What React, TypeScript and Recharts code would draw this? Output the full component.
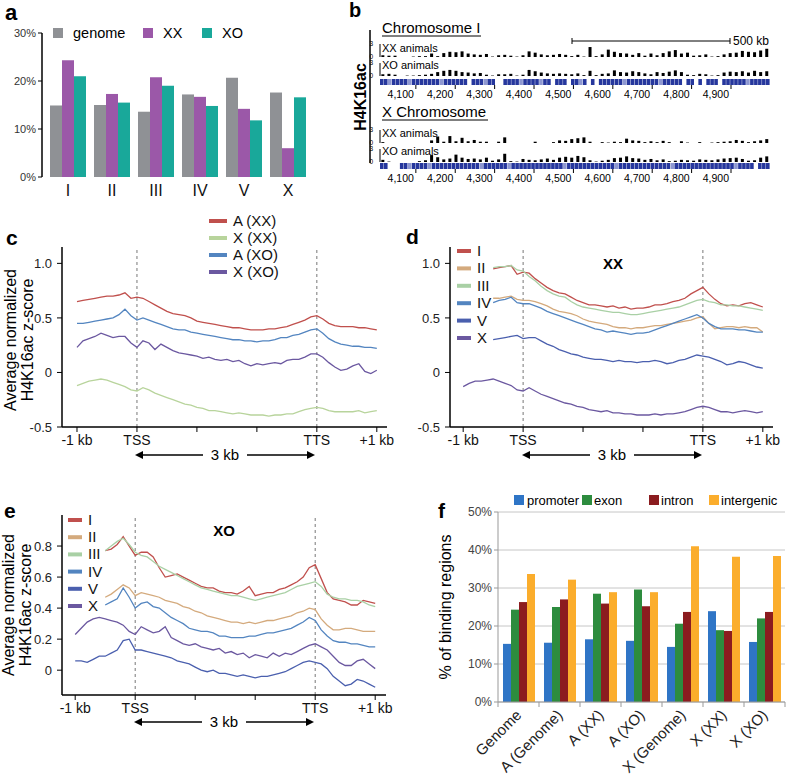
import React from "react";
import { BarChart, Bar, XAxis, YAxis, CartesianGrid, LineChart, Line, ReferenceLine, Cell } from "recharts";

const FONT = "'Liberation Sans', Arial, Helvetica, sans-serif";

// ---- panel a: share of binding regions per chromosome
const CHROMS = ["I", "II", "III", "IV", "V", "X"];
const GENOME_PCT = [14.9, 15.0, 13.6, 17.2, 20.7, 17.6];
const XX_PCT = [24.3, 17.3, 20.8, 16.7, 14.2, 6.0];
const XO_PCT = [21.0, 15.5, 19.0, 14.8, 11.8, 16.6];

// ---- panel b: browser tracks (signal 0-3, 64 bins) and gene models
const CHR_I_XX = [
  0.4, 0.3, 0.3, 0, 0, 0.1, 0.2, 0.2, 0.8, 0.2,
  0.9, 1.2, 1.1, 1.3, 0.8, 0.6, 0.5, 0.7, 0.1, 0.4,
  0.5, 0.3, 0.1, 0.4, 1.3, 1.0, 0.6, 0.4, 0.5, 0.7,
  0.5, 0.2, 0.5, 0.1, 2.3, 0.2, 0.6, 1.7, 1.2, 0.9,
  0.8, 0.5, 0.9, 0.3, 0.8, 0.4, 0.9, 1.3, 1.6, 0.8,
  1.0, 0.3, 0.4, 0.6, 0.1, 0.2, 0.6, 0.9, 1.0, 1.4,
  1.2, 1.1, 1.5, 1.9,
];
const CHR_I_XO = [
  0.4, 0.5, 0.3, 0, 0.1, 0.1, 0.2, 0.3, 0.5, 0.9,
  1.2, 1.4, 1.2, 0.9, 0.8, 0.6, 0.7, 0.3, 0.1, 0.4,
  0.4, 0.5, 0.1, 0.3, 1.4, 1.1, 0.8, 0.6, 0.5, 0.6,
  0.5, 0.4, 0.6, 0.2, 1.2, 0.2, 0.5, 0.6, 1.3, 0.9,
  0.8, 1.1, 0.9, 0.6, 0.4, 0.9, 0.7, 1.0, 1.3, 0.9,
  0.3, 0.2, 0.5, 0.4, 0.1, 0.2, 0.8, 1.0, 0.9, 1.1,
  0.8, 1.2, 0.9, 1.1,
];
const CHR_X_XX = [
  0.2, 0, 0, 0, 0, 0, 0, 0, 0.6, 1.5,
  0.3, 1.6, 0.4, 1.2, 0.4, 0.7, 0.3, 0.3, 0, 0.3,
  1.3, 0, 0, 0, 0, 0.3, 0, 0, 0.2, 0.6,
  0.5, 0.9, 1.1, 1.3, 0.3, 0, 0.2, 0.1, 0.3, 0.2,
  1.0, 0.6, 0.5, 0.2, 0.4, 0.2, 0.5, 0.2, 0, 0.4,
  0.1, 0, 0.2, 0, 0.1, 0.2, 0.3, 0.4, 0.7, 0.5,
  0.2, 0.4, 0.6, 0.9,
];
const CHR_X_XO = [
  0.5, 0.1, 0, 0, 0, 0, 0.2, 0.4, 1.6, 1.1,
  0.6, 0.8, 1.7, 1.0, 0.7, 0.8, 0.6, 1.0, 0.3, 0.6,
  1.9, 0.2, 0.1, 0.7, 0.5, 0.4, 0.6, 0.8, 0.5, 1.0,
  1.2, 1.0, 1.4, 1.1, 0.4, 0.1, 0.3, 0.5, 0.9, 1.0,
  1.3, 0.9, 0.8, 0.5, 0.7, 0.4, 0.6, 0.2, 0.3, 0.5,
  0.4, 0.3, 0.6, 0.5, 0.4, 0.6, 0.8, 0.9, 1.0, 0.7,
  0.3, 0.4, 1.0, 1.3,
];
// 2 = dark exon block, 1 = light block, 0 = no gene
const GENES_I = "2212222122222221222222" + "0" + "222122" + "00" + "222212222122" + "0" + "222" + "0" + "2212" + "0" + "2" + "0" + "222222122222222122222" + "0" + "22" + "0" + "2" + "0" + "222" + "0" + "222222122222";
const GENES_X = "22" + "000" + "2212222122" + "2222222222" + "1222222122" + "2222222222" + "2122222222" + "2222122222" + "2222222212" + "2222222222" + "2222122220" + "222";
const KB_TICKS = [4100, 4200, 4300, 4400, 4500, 4600, 4700, 4800, 4900];
const KB_DOMAIN = [4009, 4999];

// ---- panels c-e: metagene profiles, x in kb from -1 kb (0) to +1 kb (5)
const XS = [
  0, 0.1, 0.2, 0.3, 0.4, 0.5, 0.6, 0.7, 0.8, 0.9,
  1, 1.1, 1.2, 1.3, 1.4, 1.5, 1.6, 1.7, 1.8, 1.9,
  2, 2.1, 2.2, 2.3, 2.4, 2.5, 2.6, 2.7, 2.8, 2.9,
  3, 3.1, 3.2, 3.3, 3.4, 3.5, 3.6, 3.7, 3.8, 3.9,
  4, 4.1, 4.2, 4.3, 4.4, 4.5, 4.6, 4.7, 4.8, 4.9,
  5,
];
const X_LABELS = ["-1 kb", "TSS", "", "", "TTS", "+1 kb"];

const C_A_XX = [
  0.65, 0.66, 0.67, 0.68, 0.69, 0.70, 0.70, 0.71, 0.73, 0.68,
  0.69, 0.68, 0.65, 0.62, 0.59, 0.56, 0.54, 0.53, 0.52, 0.50,
  0.47, 0.46, 0.45, 0.44, 0.43, 0.42, 0.41, 0.41, 0.40, 0.39,
  0.39, 0.39, 0.40, 0.40, 0.41, 0.42, 0.44, 0.46, 0.48, 0.51,
  0.52, 0.49, 0.45, 0.43, 0.42, 0.42, 0.42, 0.41, 0.41, 0.40,
  0.39,
];
const C_X_XX = [
  -0.12, -0.10, -0.08, -0.07, -0.06, -0.07, -0.09, -0.11, -0.13, -0.16,
  -0.17, -0.14, -0.16, -0.19, -0.21, -0.23, -0.25, -0.27, -0.29, -0.30,
  -0.32, -0.33, -0.35, -0.35, -0.36, -0.37, -0.38, -0.37, -0.38, -0.39,
  -0.39, -0.39, -0.40, -0.39, -0.39, -0.38, -0.38, -0.36, -0.34, -0.33,
  -0.32, -0.33, -0.35, -0.36, -0.36, -0.36, -0.36, -0.35, -0.37, -0.36,
  -0.35,
];
const C_A_XO = [
  0.45, 0.45, 0.46, 0.47, 0.48, 0.49, 0.50, 0.53, 0.58, 0.52,
  0.48, 0.50, 0.48, 0.46, 0.44, 0.42, 0.40, 0.39, 0.39, 0.37,
  0.36, 0.35, 0.34, 0.33, 0.32, 0.31, 0.30, 0.30, 0.29, 0.29,
  0.28, 0.29, 0.29, 0.30, 0.32, 0.32, 0.34, 0.35, 0.37, 0.39,
  0.40, 0.36, 0.31, 0.28, 0.26, 0.25, 0.24, 0.24, 0.23, 0.23,
  0.22,
];
const C_X_XO = [
  0.23, 0.29, 0.31, 0.33, 0.36, 0.34, 0.32, 0.33, 0.33, 0.27,
  0.23, 0.29, 0.27, 0.21, 0.26, 0.23, 0.20, 0.18, 0.17, 0.16,
  0.15, 0.13, 0.14, 0.12, 0.11, 0.12, 0.10, 0.11, 0.08, 0.06,
  0.08, 0.07, 0.08, 0.09, 0.08, 0.11, 0.12, 0.12, 0.14, 0.17,
  0.17, 0.14, 0.09, 0.05, 0.02, 0.03, 0.06, 0.08, 0.01, -0.01,
  0.02,
];

// panel d (XX), autosomes start at 0.5
const D_I = [
  null, null, null, null, null, 0.95, 0.96, 0.97, 0.98, 0.90,
  0.92, 0.91, 0.86, 0.82, 0.78, 0.75, 0.73, 0.72, 0.69, 0.66,
  0.64, 0.62, 0.62, 0.61, 0.60, 0.61, 0.59, 0.60, 0.58, 0.59,
  0.59, 0.60, 0.62, 0.62, 0.63, 0.65, 0.66, 0.68, 0.72, 0.75,
  0.78, 0.72, 0.67, 0.63, 0.61, 0.62, 0.61, 0.63, 0.64, 0.62,
  0.60,
];
const D_II = [
  null, null, null, null, null, 0.68, 0.68, 0.69, 0.70, 0.67,
  0.66, 0.66, 0.65, 0.63, 0.61, 0.58, 0.56, 0.55, 0.54, 0.52,
  0.49, 0.47, 0.46, 0.45, 0.44, 0.42, 0.41, 0.41, 0.40, 0.41,
  0.41, 0.42, 0.43, 0.43, 0.44, 0.45, 0.46, 0.47, 0.48, 0.50,
  0.51, 0.45, 0.40, 0.41, 0.42, 0.42, 0.41, 0.42, 0.41, 0.41,
  0.37,
];
const D_III = [
  null, null, null, null, null, 0.96, 0.97, 0.97, 0.98, 0.94,
  0.93, 0.88, 0.84, 0.79, 0.75, 0.72, 0.70, 0.69, 0.65, 0.62,
  0.60, 0.59, 0.58, 0.57, 0.56, 0.55, 0.55, 0.54, 0.53, 0.53,
  0.54, 0.55, 0.56, 0.57, 0.58, 0.59, 0.60, 0.62, 0.64, 0.66,
  0.67, 0.65, 0.64, 0.62, 0.62, 0.61, 0.61, 0.60, 0.59, 0.58,
  0.57,
];
const D_IV = [
  null, null, null, null, null, 0.64, 0.66, 0.67, 0.69, 0.64,
  0.63, 0.63, 0.61, 0.59, 0.56, 0.54, 0.52, 0.50, 0.48, 0.46,
  0.44, 0.42, 0.40, 0.39, 0.37, 0.38, 0.37, 0.36, 0.35, 0.36,
  0.36, 0.37, 0.39, 0.41, 0.43, 0.45, 0.47, 0.49, 0.51, 0.53,
  0.50, 0.45, 0.42, 0.40, 0.40, 0.40, 0.39, 0.39, 0.38, 0.37,
  0.37,
];
const D_V = [
  null, null, null, null, null, 0.30, 0.31, 0.32, 0.33, 0.34,
  0.31, 0.32, 0.32, 0.29, 0.26, 0.24, 0.21, 0.19, 0.17, 0.16,
  0.14, 0.13, 0.12, 0.12, 0.11, 0.10, 0.11, 0.10, 0.10, 0.09,
  0.10, 0.10, 0.11, 0.10, 0.08, 0.09, 0.11, 0.12, 0.14, 0.16,
  0.15, 0.14, 0.12, 0.10, 0.07, 0.08, 0.10, 0.09, 0.07, 0.05,
  0.04,
];
const D_X = [
  -0.13, -0.10, -0.08, -0.08, -0.07, -0.06, -0.08, -0.10, -0.12, -0.16,
  -0.17, -0.14, -0.17, -0.20, -0.22, -0.24, -0.26, -0.28, -0.29, -0.31,
  -0.32, -0.34, -0.35, -0.36, -0.35, -0.37, -0.37, -0.38, -0.38, -0.39,
  -0.39, -0.39, -0.38, -0.39, -0.38, -0.38, -0.37, -0.36, -0.34, -0.32,
  -0.31, -0.32, -0.34, -0.36, -0.36, -0.37, -0.36, -0.35, -0.36, -0.37,
  -0.36,
];

// panel e (XO)
const E_I = [
  null, null, null, null, null, 0.77, 0.78, 0.81, 0.86, 0.80,
  0.74, 0.76, 0.76, 0.73, 0.66, 0.60, 0.61, 0.62, 0.60, 0.58,
  0.56, 0.54, 0.53, 0.53, 0.51, 0.50, 0.50, 0.49, 0.51, 0.54,
  0.48, 0.49, 0.50, 0.50, 0.52, 0.53, 0.55, 0.57, 0.60, 0.66,
  0.68, 0.59, 0.50, 0.46, 0.45, 0.44, 0.42, 0.42, 0.45, 0.44,
  0.43,
];
const E_II = [
  null, null, null, null, null, 0.47, 0.49, 0.52, 0.55, 0.53,
  0.48, 0.50, 0.49, 0.48, 0.47, 0.45, 0.44, 0.43, 0.41, 0.40,
  0.38, 0.37, 0.35, 0.34, 0.33, 0.32, 0.31, 0.31, 0.30, 0.31,
  0.30, 0.31, 0.32, 0.32, 0.33, 0.34, 0.35, 0.37, 0.38, 0.40,
  0.39, 0.33, 0.29, 0.26, 0.26, 0.27, 0.27, 0.26, 0.25, 0.25,
  0.25,
];
const E_III = [
  null, null, null, null, null, 0.77, 0.80, 0.83, 0.85, 0.81,
  0.76, 0.74, 0.73, 0.70, 0.67, 0.65, 0.63, 0.61, 0.59, 0.57,
  0.55, 0.53, 0.52, 0.51, 0.50, 0.49, 0.48, 0.48, 0.47, 0.46,
  0.45, 0.46, 0.47, 0.48, 0.49, 0.50, 0.52, 0.54, 0.55, 0.56,
  0.57, 0.54, 0.49, 0.47, 0.46, 0.46, 0.45, 0.45, 0.44, 0.42,
  0.41,
];
const E_IV = [
  null, null, null, null, null, 0.42, 0.44, 0.46, 0.53, 0.47,
  0.40, 0.43, 0.44, 0.41, 0.40, 0.37, 0.34, 0.32, 0.30, 0.27,
  0.26, 0.25, 0.25, 0.24, 0.22, 0.22, 0.21, 0.21, 0.21, 0.22,
  0.22, 0.23, 0.24, 0.24, 0.25, 0.26, 0.27, 0.29, 0.31, 0.34,
  0.32, 0.26, 0.22, 0.19, 0.18, 0.18, 0.17, 0.17, 0.16, 0.15,
  0.15,
];
const E_V = [
  0.06, 0.06, 0.05, 0.07, 0.09, 0.09, 0.11, 0.13, 0.19, 0.20,
  0.13, 0.13, 0.12, 0.11, 0.10, 0.09, 0.08, 0.06, 0.05, 0.04,
  0.02, 0.00, -0.01, 0.00, -0.02, -0.02, -0.03, -0.04, -0.03, -0.04,
  -0.05, -0.04, -0.04, -0.03, -0.02, -0.01, 0.01, 0.03, 0.05, 0.06,
  0.05, 0.04, 0.01, -0.04, -0.07, -0.10, -0.09, -0.06, -0.07, -0.09,
  -0.11,
];
const E_X = [
  0.23, 0.27, 0.31, 0.33, 0.34, 0.33, 0.32, 0.31, 0.29, 0.25,
  0.23, 0.28, 0.26, 0.24, 0.25, 0.28, 0.21, 0.19, 0.17, 0.16,
  0.17, 0.15, 0.14, 0.13, 0.14, 0.11, 0.12, 0.10, 0.11, 0.08,
  0.10, 0.09, 0.08, 0.11, 0.09, 0.11, 0.10, 0.12, 0.14, 0.16,
  0.17, 0.15, 0.13, 0.09, 0.05, 0.03, 0.03, 0.06, 0.07, 0.04,
  0.01,
];

// ---- panel f: genomic feature distribution
const F_CATS = ["Genome", "A (Genome)", "A (XX)", "A (XO)", "X (Genome)", "X (XX)", "X (XO)"];
const PROMOTER = [15.3, 15.6, 16.5, 16.1, 14.5, 23.9, 15.8];
const EXON = [24.3, 25.0, 28.5, 29.6, 20.6, 18.9, 22.0];
const INTRON = [26.3, 27.0, 25.9, 25.2, 23.7, 18.7, 23.7];
const INTERGENIC = [33.7, 32.2, 28.9, 28.9, 41.0, 38.2, 38.4];

const COL = {
  red: "#c0504d",
  tan: "#d4aa7d",
  green: "#a9d0a5",
  lime: "#b8d49c",
  blue: "#5385c0",
  navy: "#4a5fae",
  purple: "#6b58a0",
};

const abs = (left: number, top: number): React.CSSProperties => ({ position: "absolute", left, top });

function PanelA() {
  const data = CHROMS.map((c, i) => ({ chr: c, genome: GENOME_PCT[i], xx: XX_PCT[i], xo: XO_PCT[i] }));
  return (
    <div style={abs(0, 0)}>
      <BarChart width={312} height={205} data={data} margin={{ top: 33, right: 2, bottom: 0, left: 0 }} barCategoryGap={4} barGap={0}>
        <XAxis dataKey="chr" axisLine={false} tickLine={false} padding={{ left: 4, right: 0 }} height={28}
          tick={{ fontSize: 16, fill: "#111", fontFamily: FONT }} interval={0} />
        <YAxis domain={[0, 30]} ticks={[0, 10, 20, 30]} tickFormatter={(v) => `${v}%`} width={42}
          axisLine={{ stroke: "#000", strokeWidth: 1.5 }} tickLine={{ stroke: "#000" }} tickSize={4}
          tick={{ fontSize: 11, fill: "#333", fontFamily: FONT }} />
        <Bar dataKey="genome" fill="#8f9195" isAnimationActive={false} />
        <Bar dataKey="xx" fill="#9b58a8" isAnimationActive={false} />
        <Bar dataKey="xo" fill="#19a89a" isAnimationActive={false} />
      </BarChart>
    </div>
  );
}

// signal track: 13px plot, small 0/3 scale on the left
function Track({ top, values }: { top: number; values: number[] }) {
  const data = values.map((v, i) => ({ i, v }));
  return (
    <div style={abs(366, top - 6)}>
      <BarChart width={406} height={25} data={data} margin={{ top: 6, right: 2, bottom: 6, left: 0 }} barCategoryGap="22%">
        <XAxis dataKey="i" hide />
        <YAxis domain={[0, 3]} ticks={[0, 3]} width={14} tickLine={false} axisLine={{ stroke: "#000" }}
          tickMargin={1} tick={{ fontSize: 6.5, fill: "#000", fontFamily: FONT }} interval={0} />
        <Bar dataKey="v" fill="#000" isAnimationActive={false} />
      </BarChart>
    </div>
  );
}

// gene chart: plot band is 6px tall at the top of its svg
const GENE_BAND = 6;
const KbTick = (props: any) => {
  const { x, payload } = props;
  return (
    <g>
      <line x1={x} x2={x} y1={GENE_BAND} y2={GENE_BAND + 4} stroke="#000" strokeWidth={1} />
      <text x={x - 2} y={GENE_BAND + 13} textAnchor="end" fontSize={10.5} fill="#000" fontFamily={FONT}>
        {Number(payload.value).toLocaleString("en-US")}
      </text>
    </g>
  );
};

function Genes({ top, code }: { top: number; code: string }) {
  const n = code.length;
  const span = KB_DOMAIN[1] - KB_DOMAIN[0];
  const data = code.split("").map((c, i) => ({ pos: KB_DOMAIN[0] + ((i + 0.5) * span) / n, v: c === "0" ? 0 : 1, c }));
  return (
    <div style={abs(380, top)}>
      <BarChart width={390} height={GENE_BAND + 17} data={data} margin={{ top: 0, right: 0, bottom: 0, left: 0 }}>
        <XAxis type="number" dataKey="pos" domain={KB_DOMAIN} ticks={KB_TICKS} interval={0} axisLine={false}
          tickLine={false} height={17} tick={<KbTick />} allowDataOverflow />
        <YAxis hide domain={[0, 1]} />
        <Bar dataKey="v" barSize={4.3} isAnimationActive={false}>
          {data.map((d, i) => (
            <Cell key={i} fill={d.c === "1" ? "#8e98d2" : "#26379d"} />
          ))}
        </Bar>
      </BarChart>
    </div>
  );
}

type Series = { key: string; color: string; values: (number | null)[] };

function Profile({ left, top, xDomain, yDomain, yTicks, yFmt, series, plot }: {
  left: number; top: number; xDomain: number[]; yDomain: number[]; yTicks: number[];
  yFmt: (v: number) => string; series: Series[]; plot: { w: number; h: number };
}) {
  const data = XS.map((x, i) => {
    const r: any = { x };
    series.forEach((s) => { r[s.key] = s.values[i]; });
    return r;
  });
  return (
    <div style={abs(left, top)}>
      <LineChart width={62 + plot.w + 18} height={plot.h + 32} data={data} margin={{ top: 2, right: 18, bottom: 0, left: 0 }}>
        <XAxis type="number" dataKey="x" domain={xDomain} ticks={[0, 1, 2, 3, 4, 5]} interval={0} allowDataOverflow
          tickFormatter={(v) => X_LABELS[v]} axisLine={{ stroke: "#000", strokeWidth: 1.5 }} tickLine={{ stroke: "#000" }}
          tickSize={5} tickMargin={3} height={30} tick={{ fontSize: 14, fill: "#111", fontFamily: FONT }} />
        <YAxis type="number" domain={yDomain} ticks={yTicks} interval={0} allowDataOverflow tickFormatter={yFmt}
          axisLine={{ stroke: "#000", strokeWidth: 1.5 }} tickLine={{ stroke: "#000" }} tickSize={5} tickMargin={5}
          width={62} tick={{ fontSize: 13, fill: "#222", fontFamily: FONT }} />
        <ReferenceLine x={1} stroke="#777" strokeDasharray="3 3" />
        <ReferenceLine x={4} stroke="#777" strokeDasharray="3 3" />
        {series.map((s) => (
          <Line key={s.key} dataKey={s.key} stroke={s.color} strokeWidth={1.3} dot={false} type="linear"
            isAnimationActive={false} />
        ))}
      </LineChart>
    </div>
  );
}

// panel f: plot bottom sits 212px below the top of its svg
const F_AXIS_Y = 212;
const FTick = (props: any) => {
  const { x, payload, index } = props;
  const half = 41 / 2;
  const ax = x + 4;
  const ay = F_AXIS_Y + 14;
  return (
    <g>
      <line x1={x - half} x2={x - half} y1={F_AXIS_Y} y2={F_AXIS_Y + 5} stroke="#999" />
      {index === F_CATS.length - 1 && <line x1={x + half} x2={x + half} y1={F_AXIS_Y} y2={F_AXIS_Y + 5} stroke="#999" />}
      <text x={ax} y={ay} textAnchor="end" transform={`rotate(-45 ${ax} ${ay})`} fontSize={15}
        fill="#222" fontFamily={FONT}>
        {payload.value}
      </text>
    </g>
  );
};

function PanelF() {
  const data = F_CATS.map((c, i) => ({ cat: c, promoter: PROMOTER[i], exon: EXON[i], intron: INTRON[i], intergenic: INTERGENIC[i] }));
  return (
    <div style={abs(430, 490)}>
      <BarChart width={357} height={285} data={data} margin={{ top: 22, right: 2, bottom: 0, left: 0 }} barCategoryGap={5} barGap={0}>
        <CartesianGrid vertical={false} stroke="#c6c6c6" />
        <XAxis dataKey="cat" interval={0} height={73} axisLine={{ stroke: "#999" }} tickLine={false} tick={<FTick />} />
        <YAxis domain={[0, 50]} ticks={[0, 10, 20, 30, 40, 50]} tickFormatter={(v) => `${v}%`} width={68}
          axisLine={{ stroke: "#999" }} tickLine={{ stroke: "#999" }} tickSize={4}
          tick={{ fontSize: 12, fill: "#444", fontFamily: FONT }} />
        <Bar dataKey="promoter" fill="#2f75c6" isAnimationActive={false} />
        <Bar dataKey="exon" fill="#2d8c3e" isAnimationActive={false} />
        <Bar dataKey="intron" fill="#8b1c1f" isAnimationActive={false} />
        <Bar dataKey="intergenic" fill="#fbad2c" isAnimationActive={false} />
      </BarChart>
    </div>
  );
}

function SpanArrow({ x1, x2, y }: { x1: number; x2: number; y: number }) {
  const mid = (x1 + x2) / 2;
  return (
    <g>
      <line x1={x1 + 6} x2={mid - 22} y1={y} y2={y} stroke="#000" strokeWidth={1.5} />
      <line x1={mid + 22} x2={x2 - 6} y1={y} y2={y} stroke="#000" strokeWidth={1.5} />
      <polygon points={`${x1},${y} ${x1 + 8},${y - 4} ${x1 + 8},${y + 4}`} fill="#000" />
      <polygon points={`${x2},${y} ${x2 - 8},${y - 4} ${x2 - 8},${y + 4}`} fill="#000" />
      <text x={mid} y={y + 5} textAnchor="middle" fontSize={15} fontFamily={FONT}>3 kb</text>
    </g>
  );
}

function LineLegend({ x, y, items, w, gap }: { x: number; y: number; items: [string, string][]; w: number; gap: number }) {
  return (
    <g>
      {items.map(([label, color], i) => (
        <g key={label}>
          <line x1={x} x2={x + w} y1={y + i * gap} y2={y + i * gap} stroke={color} strokeWidth={4} />
          <text x={x + w + 6} y={y + i * gap + 5} fontSize={15} fontFamily={FONT} fill="#111">{label}</text>
        </g>
      ))}
    </g>
  );
}

export default function App() {
  const fmt1 = (v: number) => (v === 0 ? "0" : v.toFixed(1));
  const chromSeriesD: Series[] = [
    { key: "I", color: COL.red, values: D_I },
    { key: "III", color: COL.green, values: D_III },
    { key: "II", color: COL.tan, values: D_II },
    { key: "IV", color: COL.blue, values: D_IV },
    { key: "V", color: COL.navy, values: D_V },
    { key: "X", color: COL.purple, values: D_X },
  ];
  const chromSeriesE: Series[] = [
    { key: "I", color: COL.red, values: E_I },
    { key: "III", color: COL.green, values: E_III },
    { key: "II", color: COL.tan, values: E_II },
    { key: "IV", color: COL.blue, values: E_IV },
    { key: "V", color: COL.navy, values: E_V },
    { key: "X", color: COL.purple, values: E_X },
  ];
  const chromLegend: [string, string][] = [
    ["I", COL.red], ["II", COL.tan], ["III", COL.green], ["IV", COL.blue], ["V", COL.navy], ["X", COL.purple],
  ];
  return (
    <div style={{ position: "absolute", left: 0, top: 0, width: 787, height: 775, background: "#fff", overflow: "hidden", fontFamily: FONT }}>
      <PanelA />

      <Track top={44} values={CHR_I_XX} />
      <Track top={63} values={CHR_I_XO} />
      <Genes top={79} code={GENES_I} />
      <Track top={130} values={CHR_X_XX} />
      <Track top={149} values={CHR_X_XO} />
      <Genes top={163} code={GENES_X} />

      <Profile left={0} top={245} xDomain={[-0.25, 5.17]} yDomain={[-0.5, 1.15]} yTicks={[-0.5, 0, 0.5, 1]} yFmt={fmt1}
        plot={{ w: 325, h: 180 }}
        series={[
          { key: "axx", color: COL.red, values: C_A_XX },
          { key: "xxx", color: COL.lime, values: C_X_XX },
          { key: "axo", color: COL.blue, values: C_A_XO },
          { key: "xxo", color: COL.purple, values: C_X_XO },
        ]} />
      <Profile left={388} top={245} xDomain={[-0.22, 5.17]} yDomain={[-0.5, 1.15]} yTicks={[-0.5, 0, 0.5, 1]} yFmt={fmt1}
        plot={{ w: 323, h: 180 }} series={chromSeriesD} />
      <Profile left={0} top={513} xDomain={[-0.22, 5.18]} yDomain={[-0.16, 1.0]} yTicks={[0, 0.2, 0.4, 0.6, 0.8]}
        yFmt={fmt1} plot={{ w: 324, h: 180 }} series={chromSeriesE} />

      <PanelF />

      <svg width={787} height={775} style={{ position: "absolute", left: 0, top: 0, pointerEvents: "none" }} fontFamily={FONT}>
        {/* panel letters */}
        <text x={5} y={20} fontSize={22} fontWeight="bold">a</text>
        <text x={349} y={17} fontSize={20} fontWeight="bold">b</text>
        <text x={6} y={245} fontSize={21} fontWeight="bold">c</text>
        <text x={406} y={244} fontSize={21} fontWeight="bold">d</text>
        <text x={4} y={518} fontSize={21} fontWeight="bold">e</text>
        <text x={438} y={518} fontSize={21} fontWeight="bold">f</text>

        {/* a legend */}
        <rect x={53} y={28} width={10} height={10} fill="#8f9195" />
        <text x={73} y={38} fontSize={14.5}>genome</text>
        <rect x={143} y={28} width={10} height={10} fill="#9b58a8" />
        <text x={163} y={38} fontSize={14.5}>XX</text>
        <rect x={202} y={28} width={10} height={10} fill="#19a89a" />
        <text x={222} y={38} fontSize={14.5}>XO</text>

        {/* b annotations */}
        <line x1={370} x2={370} y1={30} y2={163} stroke="#000" strokeWidth={1.5} />
        <text transform="translate(366 97) rotate(-90)" textAnchor="middle" fontSize={16} fontWeight="bold">H4K16ac</text>
        <text x={382} y={33} fontSize={15}>Chromosome I</text>
        <line x1={382} x2={481} y1={36} y2={36} stroke="#000" strokeWidth={1} />
        <text x={382} y={117} fontSize={15}>X Chromosome</text>
        <line x1={382} x2={488} y1={120} y2={120} stroke="#000" strokeWidth={1} />
        <line x1={572} x2={730} y1={41} y2={41} stroke="#000" strokeWidth={1} />
        <line x1={572} x2={572} y1={38} y2={44} stroke="#000" />
        <line x1={730} x2={730} y1={38} y2={44} stroke="#000" />
        <text x={733} y={45} fontSize={12}>500 kb</text>
        <text x={382} y={52} fontSize={11}>XX animals</text>
        <text x={382} y={69} fontSize={11}>XO animals</text>
        <text x={382} y={137} fontSize={11}>XX animals</text>
        <text x={382} y={155} fontSize={11}>XO animals</text>

        {/* c */}
        <LineLegend x={209} y={221} w={18} gap={17} items={[["A (XX)", COL.red], ["X (XX)", COL.lime], ["A (XO)", COL.blue], ["X (XO)", COL.purple]]} />
        <text transform="translate(16 340) rotate(-90)" textAnchor="middle" fontSize={16}>Average normalized</text>
        <text transform="translate(33 340) rotate(-90)" textAnchor="middle" fontSize={16}>H4K16ac z-score</text>
        <SpanArrow x1={135} x2={315} y={455} />

        {/* d */}
        <LineLegend x={457} y={251} w={14} gap={17.4} items={chromLegend} />
        <text x={613} y={269} fontSize={15} fontWeight="bold" textAnchor="middle">XX</text>
        <SpanArrow x1={522} x2={702} y={455} />

        {/* e */}
        <LineLegend x={68} y={520} w={14} gap={17.2} items={chromLegend} />
        <text x={224} y={536} fontSize={15} fontWeight="bold" textAnchor="middle">XO</text>
        <text transform="translate(14 605) rotate(-90)" textAnchor="middle" fontSize={16}>Average normalized</text>
        <text transform="translate(31 605) rotate(-90)" textAnchor="middle" fontSize={16}>H4K16ac z-score</text>
        <SpanArrow x1={134} x2={314} y={722} />

        {/* f */}
        <rect x={514} y={495} width={10} height={10} fill="#2f75c6" />
        <text x={527} y={505} fontSize={13}>promoter</text>
        <rect x={582} y={495} width={10} height={10} fill="#2d8c3e" />
        <text x={594} y={505} fontSize={13}>exon</text>
        <rect x={649} y={495} width={10} height={10} fill="#8b1c1f" />
        <text x={661} y={505} fontSize={13}>intron</text>
        <rect x={709} y={495} width={10} height={10} fill="#fbad2c" />
        <text x={721} y={505} fontSize={13}>intergenic</text>
        <text transform="translate(451 607) rotate(-90)" textAnchor="middle" fontSize={16}>% of binding regions</text>
      </svg>
    </div>
  );
}
